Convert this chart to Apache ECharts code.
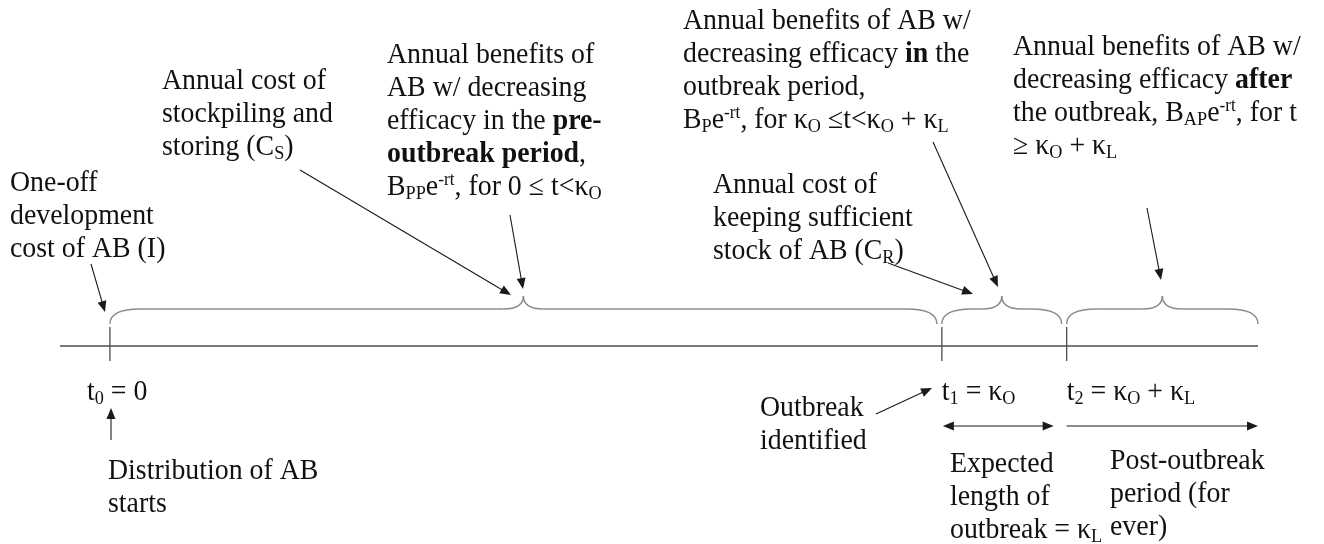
<!DOCTYPE html>
<html>
<head>
<meta charset="utf-8">
<script src="https://cdn.jsdelivr.net/npm/echarts@6/dist/echarts.min.js"></script>
<style>
  html, body { margin: 0; background: #fff; }
  #chart { width: 1324px; height: 544px; }
</style>
</head>
<body>
<div id="chart"></div>
<script>
// time axis: kappa_O scaled to 100 units, kappa_L to 15 units
const eventTimes = [0, 100, 115];              // t0 = 0, t1 = κO, t2 = κO + κL
const timelineExtent = [-6, 138];
const braceSpans = [[0, 100], [100, 115], [115, 138]];
const periodArrows = [[100, 115, 'both'], [115, 138, 'end']];
const eventLabels = [
  't{sub|0} = 0',
  't{sub|1} = κ{sub|O}',
  't{sub|2} = κ{sub|O} + κ{sub|L}'
];
const noteTexts = [
  'One-off\ndevelopment\ncost of AB (I)',
  'Annual cost of\nstockpiling and\nstoring (C{sub|S})',
  'Annual benefits of\nAB w/ decreasing\nefficacy in the {b|pre-}\n{b|outbreak period},\nB{sub|PP}e{sup|-rt}, for 0 ≤ t<κ{sub|O}',
  'Annual benefits of AB w/\ndecreasing efficacy {b|in} the\noutbreak period,\nB{sub|P}e{sup|-rt}, for κ{sub|O} ≤t<κ{sub|O} + κ{sub|L}',
  'Annual cost of\nkeeping sufficient\nstock of AB (C{sub|R})',
  'Annual benefits of AB w/\ndecreasing efficacy {b|after}\nthe outbreak, B{sub|AP}e{sup|-rt}, for t\n≥ κ{sub|O} + κ{sub|L}',
  'Distribution of AB\nstarts',
  'Outbreak\nidentified',
  'Expected\nlength of\noutbreak = κ{sub|L}',
  'Post-outbreak\nperiod (for\never)'
];

// layout (pixels)
const noteBoxes = [
  [10, 167], [162, 65], [387, 39], [683, 5], [713, 169],
  [1013, 31], [108, 455], [760, 392], [950, 448], [1110, 445]
];
const noteArrows = [
  [91, 264, 105, 312],
  [300, 170, 511, 295],
  [510, 215, 523, 289],
  [933, 142, 998, 287],
  [888, 263, 973, 294],
  [1147, 208, 1161, 280],
  [111, 440, 111, 408],
  [876, 414, 932, 388]
];
const labelDx = [-23, 0, 0];
const LINE_Y = 346;
const FONT = '"Liberation Serif", "Times New Roman", serif';
const TEXT = '#111';
const SQUEEZE = 0.96;

const rich = {
  b: { fontFamily: FONT, fontSize: 29, fontWeight: 'bold', lineHeight: 33, fill: TEXT },
  sub: { fontFamily: FONT, fontSize: 19, verticalAlign: 'bottom', lineHeight: 13, fill: TEXT },
  sup: { fontFamily: FONT, fontSize: 18, verticalAlign: 'top', lineHeight: 15, fill: TEXT }
};

function textEl(text, x, y) {
  return {
    type: 'text', silent: true, x: x, y: y, scaleX: SQUEEZE,
    style: {
      text: text, x: 0, y: 0,
      fontFamily: FONT, fontSize: 29, lineHeight: 33, fill: TEXT,
      verticalAlign: 'top', align: 'left', rich: rich
    }
  };
}

function head(x1, y1, x2, y2, color) {
  const len = 11, half = 4.5;
  const a = Math.atan2(y2 - y1, x2 - x1);
  const bx = x2 - len * Math.cos(a), by = y2 - len * Math.sin(a);
  const nx = -Math.sin(a) * half, ny = Math.cos(a) * half;
  return {
    type: 'polygon',
    shape: { points: [[x2, y2], [bx + nx, by + ny], [bx - nx, by - ny]] },
    style: { fill: color }
  };
}

function arrowEls(x1, y1, x2, y2, both) {
  const c = '#1a1a1a';
  const a = Math.atan2(y2 - y1, x2 - x1);
  const kids = [
    { type: 'line', shape: { x1: both ? x1 + 9 * Math.cos(a) : x1, y1: both ? y1 + 9 * Math.sin(a) : y1,
      x2: x2 - 9 * Math.cos(a), y2: y2 - 9 * Math.sin(a) }, style: { stroke: c, lineWidth: 1.1 } },
    head(x1, y1, x2, y2, c)
  ];
  if (both) kids.push(head(x2, y2, x1, y1, c));
  return kids;
}

const chart = echarts.init(document.getElementById('chart'));

const graphic = [];
noteTexts.forEach((t, i) => {
  graphic.push(textEl(t, noteBoxes[i][0], noteBoxes[i][1]));
});
noteArrows.forEach(a => {
  graphic.push({ type: 'group', silent: true, children: arrowEls(a[0], a[1], a[2], a[3], false) });
});

chart.setOption({
  animation: false,
  grid: { left: 60, right: 66, top: 0, bottom: 0 },
  xAxis: { type: 'value', min: timelineExtent[0], max: timelineExtent[1], show: false },
  yAxis: { type: 'value', min: 0, max: 544, inverse: true, show: false },
  graphic: graphic,
  series: [
    {
      // main time line
      type: 'custom', silent: true,
      data: [timelineExtent],
      encode: { x: [0, 1] },
      renderItem: (params, api) => {
        const a = api.coord([api.value(0), LINE_Y]);
        const b = api.coord([api.value(1), LINE_Y]);
        return { type: 'line', shape: { x1: a[0], y1: a[1], x2: b[0], y2: b[1] },
          style: { stroke: '#4d4d4d', lineWidth: 1.3 } };
      }
    },
    {
      // event ticks and labels
      type: 'custom', silent: true,
      data: eventTimes.map((t, i) => [t, i]),
      encode: { x: 0 },
      renderItem: (params, api) => {
        const i = api.value(1);
        const p = api.coord([api.value(0), LINE_Y]);
        return {
          type: 'group',
          children: [
            { type: 'line', shape: { x1: p[0], y1: p[1] - 19, x2: p[0], y2: p[1] + 15 },
              style: { stroke: '#4d4d4d', lineWidth: 1.3 } },
            textEl(eventLabels[i], p[0] + labelDx[i], 376)
          ]
        };
      }
    },
    {
      // curly braces over each period
      type: 'custom', silent: true,
      data: braceSpans,
      encode: { x: [0, 1] },
      renderItem: (params, api) => {
        const s = api.value(0), e = api.value(1);
        let x0 = api.coord([s, 0])[0];
        let x1 = api.coord([e, 0])[0];
        if (e < timelineExtent[1]) x1 -= 5;
        const xm = (x0 + x1) / 2;
        const yEnd = 324, yFlat = 309, yPeak = 296;
        const w = x1 - x0;
        const r = Math.min(30, w / 4), rp = Math.min(20, w / 5);
        const st = { stroke: '#8c8c8c', lineWidth: 1.5, fill: null };
        return {
          type: 'group',
          children: [
            { type: 'bezierCurve', shape: { x1: x0, y1: yEnd, cpx1: x0, cpy1: yFlat, x2: x0 + r, y2: yFlat }, style: st },
            { type: 'line', shape: { x1: x0 + r, y1: yFlat, x2: xm - rp, y2: yFlat }, style: st },
            { type: 'bezierCurve', shape: { x1: xm - rp, y1: yFlat, cpx1: xm, cpy1: yFlat, x2: xm, y2: yPeak }, style: st },
            { type: 'bezierCurve', shape: { x1: xm, y1: yPeak, cpx1: xm, cpy1: yFlat, x2: xm + rp, y2: yFlat }, style: st },
            { type: 'line', shape: { x1: xm + rp, y1: yFlat, x2: x1 - r, y2: yFlat }, style: st },
            { type: 'bezierCurve', shape: { x1: x1 - r, y1: yFlat, cpx1: x1, cpy1: yFlat, x2: x1, y2: yEnd }, style: st }
          ]
        };
      }
    },
    {
      // period length arrows under the time labels
      type: 'custom', silent: true,
      data: periodArrows.map(p => [p[0], p[1]]),
      encode: { x: [0, 1] },
      renderItem: (params, api) => {
        const both = periodArrows[params.dataIndex][2] === 'both';
        const a = api.coord([api.value(0), 426]);
        const b = api.coord([api.value(1), 426]);
        const x1 = a[0] + (both ? 1 : 0);
        const x2 = b[0] - (both ? 13 : 0);
        return { type: 'group', children: arrowEls(x1, a[1], x2, b[1], both) };
      }
    }
  ]
});
</script>
</body>
</html>
